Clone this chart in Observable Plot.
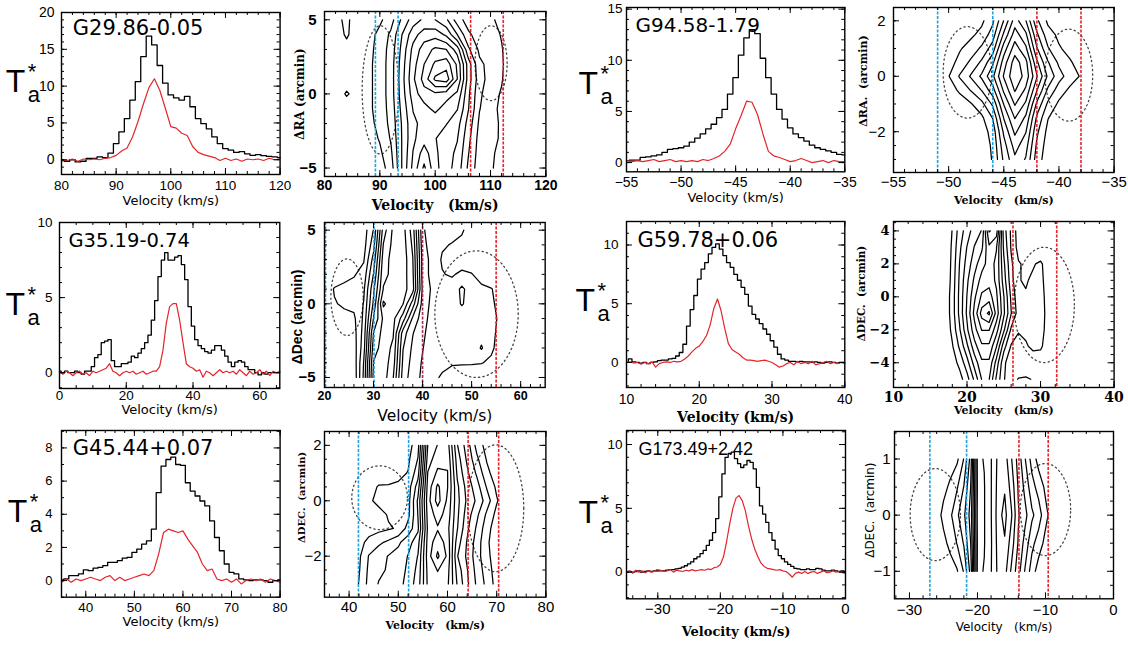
<!DOCTYPE html>
<html><head><meta charset="utf-8">
<script src="https://cdn.jsdelivr.net/npm/d3@7"></script>
<script src="https://cdn.jsdelivr.net/npm/@observablehq/plot@0.6"></script>
<style>
body{margin:0;background:#fff;}
#root{position:relative;width:1128px;height:646px;overflow:hidden;background:#fff;}
.pn{position:absolute;}
</style></head><body><div id="root"></div>
<script>
// ---------------- DATA ----------------
// Spectra (black = broad line, red = narrow line), regular velocity sampling
const p1Name = "G29.86-0.05", p1Start = 80, p1Step = 1;
const p1Black = [-0.1,-0.2,0,-0.3,-0.2,0.2,0.2,0.4,0.3,0.9,2.2,3.8,5.6,8.1,10.6,14.0,16.8,15.6,12.8,10.4,8.8,8.4,8.1,8.6,7.2,5.6,4.9,4.2,3.1,2.2,1.5,1.3,1.0,1.1,0.8,0.6,0.7,0.55,0.45,0.4,0.3];
const p1Red = [0,-0.1,0.1,-0.2,0.1,0,0.1,0,0.2,0.3,0.6,1.2,1.6,3.1,5.2,7.6,9.8,11.0,9.4,7.0,4.5,4.3,3.6,3.3,1.8,1.0,0.7,0.5,0.3,-0.1,0.2,-0.1,0.1,-0.2,0.1,0,0.1,-0.1,0.2,0,0.1];
const p1XTicks = [80,90,100,110,120], p1YTicks = [0,5,10,15,20];

const p3Name = "G35.19-0.74", p3Start = 0, p3Step = 1;
const p3Black = [0.1,0,0.1,0,0,0.1,0,-0.1,0.1,0.1,0.4,1.0,1.2,2.0,2.1,2.2,0.8,0.4,0.4,0.6,0.6,0.7,1.1,1.0,1.3,1.6,2.0,2.5,3.5,4.8,6.4,7.5,8.0,7.5,7.5,7.7,7.8,7.2,6.2,4.4,3.1,2.2,1.8,1.6,1.4,1.3,1.5,1.8,1.8,1.5,1.1,0.7,0.4,0.7,0.8,0.7,0.4,0.2,0.2,0,-0.15,0,-0.1,0,0,0,0];
const p3Red = [0.1,-0.1,0.1,0,-0.2,0,0.1,-0.1,0,-0.2,0.1,0,0.1,0.2,0.3,0.6,0.1,0,-0.2,0,0.1,0,0.1,-0.1,0,0.1,-0.1,0,0.1,0.1,0.4,1.5,3.3,4.4,4.6,4.6,3.5,2.0,0.6,0.4,0.3,0.1,0.2,-0.3,0.1,0,-0.2,0,0.2,0,0.1,0,0.1,-0.1,0.2,0,-0.2,0.1,-0.1,0,0.2,-0.1,0.1,-0.2,0.1,0,0.1];
const p3XTicks = [0,20,40,60], p3YTicks = [0,5,10];

const p5Name = "G45.44+0.07", p5Start = 35, p5Step = 1;
const p5Black = [0.05,0.1,0.3,0.3,0.4,0.65,0.6,0.75,0.8,0.9,1.1,1.1,1.2,1.35,1.4,1.7,1.9,2.2,2.4,3.1,5.3,6.9,7.3,7.45,7.0,6.95,5.9,5.4,5.1,4.8,4.5,3.6,2.6,1.8,1.0,0.5,0.4,0.1,0.05,0,0.05,0.05,0,-0.1,0,0.05];
const p5Red = [-0.1,0.1,-0.1,0.1,0,0.1,0.2,0.1,0,0.2,0.3,0,0.2,0,0.1,0.2,0.3,0.4,0.3,0.6,1.6,2.9,3.1,3.0,2.9,3.0,2.5,2.1,1.7,1.0,0.6,0.7,0.1,0,0.1,-0.1,0.1,-0.2,0,0.1,0,0.1,-0.1,0.1,0,-0.1];
const p5XTicks = [40,50,60,70,80], p5YTicks = [0,2,4,6,8];

const p7Name = "G94.58-1.79", p7Start = -55, p7Step = 0.5;
const p7Black = [0.2,0.25,0.25,0.5,0.55,0.65,0.75,1.0,1.3,1.37,1.45,1.6,2.0,2.4,2.8,3.3,3.75,4.4,5.2,6.7,8.3,10.5,12.2,13.0,12.6,10.2,8.3,6.7,5.2,4.25,3.4,2.8,2.45,2.1,1.7,1.45,1.3,1.15,1.0,0.8,0.75];
const p7Red = [0.2,0.1,0.2,0.1,0.2,0.3,0.1,0.2,0.3,0.1,0.2,0.1,0.2,0.1,0.3,0.2,0.4,0.65,1.1,1.8,3.3,4.6,6.0,5.9,4.7,2.8,1.1,0.65,0.5,0.3,0.1,0.2,0.4,0.2,0,0.1,0.2,0,0.2,0.1,0.1];
const p7XTicks = [-55,-50,-45,-40,-35], p7YTicks = [0,5,10,15];

const p9Name = "G59.78+0.06", p9Start = 10, p9Step = 0.5;
const p9Black = [0,0.3,0.05,0,-0.05,0,-0.1,0,0.05,0.15, 0.2,0.2,0.3,0.35,0.55,0.85,1.55,3.1,4.5,5.7, 7.1,7.95,8.5,9.25,9.8,10.1,9.65,9.1,8.5,8.1, 7.5,7.0,6.4,5.8,4.8,4.1,3.7,3.3,2.85,2.4, 1.85,1.3,0.7,0.3,0.2,0.1,0.1,0.05,0.1,0.05, 0.05,0,0.05,0,-0.05,0,0.05,0,-0.05,0, 0];
const p9Red = [0,0.05,-0.05,0,-0.15,0,-0.1,0.05,-0.4,-0.1, 0,0.05,0,0.1,0.05,0.1,0.3,0.55,0.9,1.2, 1.4,1.8,2.3,3.2,4.6,5.4,4.4,2.9,1.6,1.1, 0.9,0.7,0.4,0.2,0.2,0.15,0.1,0.15,0.2,0.1, 0,-0.2,-0.4,-0.3,-0.1,0,-0.2,0.1,-0.1,0, -0.1,0.1,-0.2,-0.1,0,0.1,-0.1,0,-0.1,0, -0.1];
const p9XTicks = [10,20,30,40], p9YTicks = [0,5,10];

const p11Name = "G173.49+2.42", p11Start = -35, p11Step = 0.5;
const p11Black = [0,0.05,0,0.05,0.1,0,0.05,0.1,0.05,0.1, 0.15,0.1,0.1,0.15,0.2,0.2,0.25,0.3,0.4,0.5, 0.65,0.8,1.05,1.2,1.45,1.7,2.1,2.5,3.1,4.2, 5.9,7.7,9.0,9.3,9.4,8.9,8.5,8.2,8.4,8.75, 8.6,8.1,6.65,5.2,4.55,3.9,3.1,2.5,1.8,1.3, 1.05,0.8,0.6,0.45,0.3,0.25,0.2,0.2,0.25,0.2, 0.2,0.3,0.25,0.15,0.1,0.1,0.15,0.1,0.05,0.1, 0.05];
const p11Red = [0,0.1,-0.1,0.15,0,0.1,-0.05,0.1,0,0.1, 0.05,0.15,0.05,0.1,0.2,0,0.15,0.1,0.05,0.15, 0.1,0.2,0.1,0.15,0.2,0.15,0.25,0.2,0.35,0.4, 0.6,1.2,2.4,3.8,5.0,5.8,6.0,5.6,4.8,3.6, 2.6,1.8,1.2,0.7,0.45,0.3,0.25,0.2,0.15,0.2, 0.1,0.05,-0.15,-0.4,-0.1,0,-0.1,0.05,-0.1,0, 0.05,-0.1,0,0.1,-0.05,0,0.1,0,0.05,-0.05, -0.1];
const p11XTicks = [-30,-20,-10,0], p11YTicks = [0,5,10];

// Position-velocity maps: intensity grids (rows from top offset downward, columns by velocity)
const p2V0 = 82, p2DV = 2, p2Top = 5, p2DY = 1;
const p2Grid = [
 [0.6,1.3,0.2,0.3,0.8,1.6,3.2,4.5,5.2,5.0,4.2,2.5,1.5,1.2,1.3,0.5,0],
 [0.3,1.2,0.2,0.6,1.3,2.2,4.0,5.6,6.5,6.6,5.8,4.0,2.2,1.5,1.6,0.9,0],
 [0.2,0.5,0.2,0.7,1.4,2.4,4.3,6.3,7.5,8.2,8.0,6.5,3.2,1.8,1.7,1.1,0],
 [0,0.1,0.2,0.8,1.4,2.5,4.5,6.6,8.0,9.2,9.6,7.8,4.5,2.2,1.7,1.2,0],
 [0,0.1,0.2,0.8,1.4,2.5,4.6,6.8,8.4,10.2,10.6,8.0,4.5,2.4,1.6,1.1,0],
 [0,1.2,0.3,0.8,1.4,2.5,4.5,6.5,7.6,7.8,7.5,6.8,4.2,2.2,1.4,0.9,0],
 [0,0,0.3,0.8,1.4,2.4,4.3,6.05,6.6,7.3,6.5,6.05,4.05,2.05,1.3,0.8,0],
 [0,0,0.2,0.7,1.3,2.3,4.1,5.8,6.3,6.2,6.05,5.4,3.6,1.8,1.5,0.8,0],
 [0,0,0.1,0.5,1.1,2.1,4.05,5.8,6.6,6.05,5.5,5.05,3.3,1.6,1.9,0.6,0],
 [0,0,0,0.3,0.8,1.8,4.05,6.05,7.5,6.2,5.4,4.8,3.05,1.5,1.3,0.5,0],
 [0,0,0,0.2,0.5,1.5,4.05,6.3,8.2,6.3,5.4,4.6,2.8,1.4,1.2,0.4,0]];
const p2Blue = [89.2, 93.3], p2RedLines = [106.4, 112.3];
const p2Ellipses = [[90.1,0.27,3.3,4.33],[110.1,2.07,2.9,2.53]];

const p4V0 = 20, p4DV = 2, p4Top = 5, p4DY = 1;
const p4Grid = [
 [0,0,0,0,0.5,2.05,6.5,8.2,8.4,6.5,2.2,1.3,1.2,1.3,1.1,0.6,0.3,0,0,0,0],
 [0,0,0,0,0.6,2.6,7.05,8.3,8.5,6.8,2.4,1.4,1.1,0.95,0.8,0.4,0.2,0,0,0,0],
 [0,0,0,0.3,0.9,3.4,7.5,8.4,8.6,7.05,2.6,1.6,0.9,0.6,0.5,0.4,0.2,0,0,0,0],
 [0,0.2,0.6,0.9,1.4,4.05,7.8,8.2,8.5,7.2,2.6,1.6,1.05,0.9,1.2,1.05,0.6,0.3,0,0,0],
 [0,1.1,1.3,1.4,1.8,4.8,8.05,8.2,8.4,7.4,2.8,1.8,1.3,1.4,2.2,1.5,1.2,1.05,0.6,0.2,0],
 [0,0.9,1.2,1.3,2.05,5.2,9.2,8.3,8.05,5.5,2.6,1.7,1.3,1.4,2.1,1.5,1.3,1.1,0.8,0.3,0],
 [0,0.2,0.6,0.8,2.2,6.05,8.2,8.3,6.5,3.8,2.4,1.6,1.3,1.2,1.3,1.3,1.3,1.4,0.7,0.3,0],
 [0,0,0.3,0.6,2.4,7.05,8.4,8.1,4.5,3.05,2.2,1.5,1.3,1.2,1.2,1.4,1.6,1.3,0.6,0.2,0],
 [0,0,0.2,0.5,2.6,7.5,8.5,7.8,4.05,2.8,2.05,1.4,1.2,1.2,1.2,1.3,2.1,1.2,0.5,0.1,0],
 [0,0,0.1,0.4,3.05,8.05,8.5,7.5,3.8,2.6,1.9,1.3,1.2,1.1,1.1,1.1,1.05,0.8,0.3,0,0],
 [0,0,0,0.3,3.2,8.3,8.5,7.05,3.5,2.5,1.8,1.2,0.9,0.6,0.4,0.3,0.2,0.1,0,0,0]];
const p4Blue = [20.2, 30.1], p4RedLines = [40.0, 55.0];
const p4Ellipses = [[24.6,0.45,3.3,2.6],[51.0,-0.7,8.5,4.3]];

const p6V0 = 40, p6DV = 2, p6Top = 2, p6DY = 0.5;
const p6Grid = [
 [0,0,0,0,0,0.3,0.6,1.6,7.05,8.05,8.5,5.05,3.5,1.6,0.6,0.2,0,0],
 [0,0,0,0,0.2,0.4,0.8,2.05,7.5,8.6,8.8,5.5,3.8,2.2,0.9,0.3,0,0],
 [0,0,0.1,0.3,0.5,0.7,1.05,2.6,8.05,9.2,9.05,5.8,4.2,2.8,1.3,0.4,0,0],
 [0,0,0.5,1.1,1.1,1.2,1.5,3.5,8.4,10.2,9.05,6.2,4.6,3.4,1.9,0.8,0.2,0],
 [0,0,0.8,1.3,1.3,1.3,1.6,4.2,8.6,10.4,8.8,6.3,4.8,3.8,2.5,1.1,0.3,0],
 [0,0,0.3,0.6,1.1,1.3,1.7,4.05,8.4,9.4,8.6,6.2,4.5,3.2,1.8,0.7,0.2,0],
 [0,0,0.4,0.7,0.9,1.1,2.4,3.8,8.2,8.9,8.3,6.05,4.2,2.8,1.4,0.4,0,0],
 [0,0.5,1.4,1.8,2.2,2.8,3.6,4.6,8.4,9.6,8.6,5.5,3.9,2.5,1.2,0.3,0,0],
 [0,0.8,2.05,2.6,3.05,3.4,4.05,5.05,8.5,10.2,8.8,5.05,3.8,2.4,1.3,0.4,0,0],
 [0,0.9,2.2,2.8,3.1,3.5,4.2,5.3,8.3,9.05,8.4,5.6,4.05,2.6,1.5,0.5,0,0],
 [0,1.05,2.3,3.05,3.3,3.6,4.4,5.5,8.2,8.6,8.2,5.9,4.2,2.8,1.7,0.6,0,0]];
const p6Blue = [41.9, 52.1], p6RedLines = [64.2, 70.4];
const p6Ellipses = [[46.2,0.11,5.66,1.15],[69.8,-0.27,5.7,2.29]];

const p8V0 = -52, p8DV = 1, p8Top = 2, p8DY = 0.5;
const p8Grid = [
 [0,0,0,0.2,0.5,0.8,1.8,4.05,6.5,5.05,2.2,0.8,0.3,0,0,0,0],
 [0,0,0.1,0.4,0.8,1.3,2.5,5.2,7.5,6.2,3.2,1.4,0.8,0.4,0.1,0,0],
 [0,0,0.3,0.9,1.4,2.2,3.5,6.5,8.5,7.2,4.1,2.1,1.1,0.7,0.3,0,0],
 [0,0.1,0.6,1.3,2.2,3.2,4.8,7.5,9.5,8.3,5.2,3.1,1.8,1.1,0.6,0.1,0],
 [0,0.2,0.95,2.1,3.1,4.2,5.8,8.1,9.8,8.6,6.1,3.8,2.4,1.5,0.9,0.2,0],
 [0,0,0.4,1.2,2.05,3.05,4.6,7.2,9.1,7.8,5.05,2.8,1.5,0.8,0.3,0,0],
 [0,0,0,0.4,0.9,1.7,3.2,6.05,8.1,6.8,3.8,1.8,0.8,0.3,0,0,0],
 [0,0,0,0.1,0.4,0.8,2.05,5.05,7.05,5.8,2.8,1.05,0.4,0.1,0,0,0],
 [0,0,0,0,0.2,0.5,1.4,4.2,6.2,5.05,2.2,0.7,0.2,0,0,0,0],
 [0,0,0,0,0,0.3,1.2,3.6,5.4,4.4,1.8,0.5,0,0,0,0,0],
 [0,0,0,0,0,0.2,1.1,3.2,4.8,3.9,1.5,0.4,0,0,0,0,0]];
const p8Blue = [-51.0, -46.0], p8RedLines = [-42.0, -38.0];
const p8Ellipses = [[-48.3,0.14,2.2,1.65],[-39.1,0.04,2.16,1.66]];

const p10V0 = 16, p10DV = 1, p10Top = 4, p10DY = 1;
const p10Grid = [
 [0,0,1.05,2.5,3.5,4.5,5.05,9.1,8.5,3.5,1.8,0.5,0,0,0,0,0,0,0],
 [0,0,1.2,2.8,4.05,5.05,5.8,7.8,7.05,3.8,1.9,0.6,0.2,0,0,0,0,0,0],
 [0,0,1.3,3.05,4.4,5.6,6.6,7.4,6.8,4.2,2.2,1.1,0.8,0.9,1.2,0.4,0,0,0],
 [0,0,1.4,3.2,4.8,6.2,7.4,7.6,6.8,4.5,2.4,1.05,0.9,1.2,1.3,0.5,0,0,0],
 [0,0.2,1.5,3.3,5.05,6.8,8.2,8.5,7.2,5.05,2.8,1.3,1.1,1.3,1.4,0.6,0,0,0],
 [0,0.2,1.5,3.3,5.2,7.3,9.4,10.2,7.6,5.2,3.05,1.5,1.2,1.3,1.4,0.7,0,0,0],
 [0,0.1,1.3,2.9,4.8,6.6,8.05,8.05,6.4,4.2,1.8,1.1,1.2,1.3,1.4,0.6,0,0,0],
 [0,0,0.9,2.2,3.8,5.6,6.8,6.8,5.05,2.4,0.9,0.6,0.9,1.2,1.2,0.4,0,0,0],
 [0,0,0.5,1.3,2.6,4.4,5.8,5.8,3.6,1.2,0.4,0.3,0.4,0.5,0.3,0,0,0,0],
 [0,0,0.2,0.6,1.6,3.2,5.05,5.05,2.8,1.05,0.6,1.05,1.1,0.95,0.3,0,0,0,0]];
const p10Blue = [], p10RedLines = [26.25, 32.2];
const p10Ellipses = [[30.5,-0.49,4.1,3.5]];

const p12V0 = -28, p12DV = 1, p12Top = 1, p12DY = 0.5;
const p12Grid = [
 [0,0,0,0.2,0.5,0.8,2.05,4.4,10.2,9.95,9.05,7.8,7.5,6.05,4.6,3.05,1.6,0.6,0.2,0,0,0,0],
 [0,0,0.2,0.7,1.2,1.9,3.05,5.0,10.1,10.05,9.05,7.7,7.9,6.6,4.9,3.7,2.4,1.6,0.8,0.2,0,0,0],
 [0,0.1,0.5,1.3,1.8,2.8,3.8,5.4,10.2,10.05,9.05,7.6,8.3,7.1,5.1,4.3,3.2,2.5,1.3,0.5,0,0,0],
 [0,0,0.2,0.7,1.3,2.05,3.1,5.0,10.1,10.05,9.1,7.7,7.9,6.5,4.9,3.6,2.3,1.5,0.7,0.2,0,0,0],
 [0,0,0,0.2,0.5,0.9,2.1,4.4,10.2,9.95,9.05,7.8,7.4,5.8,4.4,2.9,1.5,0.5,0.1,0,0,0,0]];
const p12Blue = [-27.0, -21.6], p12RedLines = [-13.9, -9.6];
const p12Ellipses = [[-26.2,0.01,3.7,0.82],[-10.0,0.1,3.7,0.82]];

// ---------------- DRAWING ----------------
const SANS = "Liberation Sans, Arial, Helvetica, sans-serif";
const DSANS = "DejaVu Sans, sans-serif";
const SERIF = "DejaVu Serif, serif";
const RED = "#e3252b", BLUE = "#1ea3df", MAROON = "#a3314c";
const root = document.getElementById("root");
const fmt = d => d < 0 ? "\u2212" + Math.abs(d) : String(d);
const nb = s => s.replace(/ /g, "\u00a0");
function rangeIn(step, dom) {
  const a = Math.min(...dom), b = Math.max(...dom);
  const s = Math.ceil(a / step - 1e-9) * step;
  return d3.range(s, b + 1e-9, step).map(v => +v.toFixed(6));
}

function panel(c) {
  const ml = 70, mr = 12, mt = 14, mb = 46;
  const [L, T, R, B] = c.frame;
  const pw = R - L, ph = B - T, W = pw + ml + mr, H = ph + mt + mb;
  const marks = [...c.marks];
  const maj = 6, mnr = 3;
  const xm = rangeIn(c.xMinor, c.x), ym = rangeIn(c.yMinor, c.y);
  const xt = c.xTicks.filter(v => v >= c.x[0] && v <= c.x[1]);
  const yMid = (c.y[0] + c.y[1]) / 2;
  marks.push(
    Plot.tickX(xm, {x: d => d, insetTop: ph - mnr}),
    Plot.tickX(xm, {x: d => d, insetBottom: ph - mnr}),
    Plot.tickX(xt, {x: d => d, insetTop: ph - maj}),
    Plot.tickX(xt, {x: d => d, insetBottom: ph - maj}),
    Plot.tickY(ym, {y: d => d, insetRight: pw - mnr}),
    Plot.tickY(ym, {y: d => d, insetLeft: pw - mnr}),
    Plot.tickY(c.yTicks, {y: d => d, insetRight: pw - maj}),
    Plot.tickY(c.yTicks, {y: d => d, insetLeft: pw - maj}),
    Plot.frame({stroke: "black", strokeWidth: 1.4}),
    Plot.text(c.xTicks, {x: d => d, frameAnchor: "bottom", dy: c.xl.dy, text: fmt, textAnchor: "middle", lineAnchor: "middle",
      fontSize: c.xl.size, fontFamily: c.xl.font, fontWeight: c.xl.weight || "normal", fill: "black"}),
    Plot.text(c.yTicks, {y: d => d, frameAnchor: "left", dx: c.yl.dx, text: fmt, textAnchor: "end", lineAnchor: "middle",
      fontSize: c.yl.size, fontFamily: c.yl.font, fontWeight: c.yl.weight || "normal", fill: "black"}),
    Plot.text([c.xt.text], {frameAnchor: "bottom", dy: c.xt.dy, text: d => nb(d), textAnchor: "middle", lineAnchor: "middle",
      fontSize: c.xt.size, fontFamily: c.xt.font, fontWeight: c.xt.weight || "normal", fill: "black"})
  );
  if (c.yt) marks.push(Plot.text([c.yt.text], {y: () => yMid, frameAnchor: "left", rotate: -90, dx: c.yt.dx, dy: c.yt.dy || 0,
      text: d => nb(d), textAnchor: "middle", lineAnchor: "middle", fontSize: c.yt.size, fontFamily: c.yt.font,
      fontWeight: c.yt.weight || "normal", fill: "black"}));
  const svg = Plot.plot({
    width: W, height: H, marginLeft: ml, marginRight: mr, marginTop: mt, marginBottom: mb,
    x: {domain: c.x, axis: null}, y: {domain: c.y, axis: null},
    style: {background: "transparent", overflow: "visible"},
    marks
  });
  const div = document.createElement("div");
  div.className = "pn";
  div.style.left = (L - ml) + "px"; div.style.top = (T - mt) + "px"; div.style.width = W + "px";
  div.appendChild(svg);
  root.appendChild(div);
}

function specMarks(start, step, black, red, name, nameOpt, ta) {
  const b = black.map((t, i) => ({v: start + i * step, t}));
  const r = red.map((t, i) => ({v: start + i * step, t}));
  const base = {frameAnchor: "left", text: d => d, textAnchor: "start", lineAnchor: "bottom", fontFamily: SANS, fill: "black"};
  return [
    Plot.line(b, {x: "v", y: "t", stroke: "black", curve: "step", strokeWidth: 1.3}),
    Plot.line(r, {x: "v", y: "t", stroke: RED, strokeWidth: 1.2}),
    Plot.text([name], {frameAnchor: "top-left", dx: nameOpt.dx, dy: nameOpt.dy, text: d => d, textAnchor: "start",
      lineAnchor: "bottom", fontSize: nameOpt.size, fontFamily: nameOpt.font, fill: "black"}),
    Plot.text(["T"], {...base, dx: ta[0], dy: ta[1], fontSize: 32}),
    Plot.text(["a"], {...base, dx: ta[0] + 22, dy: ta[1] + 10, fontSize: 22}),
    Plot.text(["*"], {...base, dx: ta[0] + 22, dy: ta[1] - 13, fontSize: 22})
  ];
}

function contourSegments(grid, v0, dv, yTop, dy, levels) {
  const ny = grid.length, nx = Math.max(...grid.map(r => r.length));
  const values = new Array(nx * ny);
  for (let j = 0; j < ny; j++) for (let i = 0; i < nx; i++) values[j * nx + i] = grid[j][i] ?? 0;
  const cs = d3.contours().size([nx, ny]).thresholds(levels)(values);
  const out = []; let id = 0;
  const isB = p => p[0] <= 0 || p[0] >= nx || p[1] <= 0 || p[1] >= ny;
  const conv = p => ({v: v0 + (p[0] - 0.5) * dv, y: yTop - (p[1] - 0.5) * dy});
  for (const c of cs) for (const poly of c.coordinates) for (const ring of poly) {
    let pts = ring;
    const f = ring[0], l = ring[ring.length - 1];
    if (f[0] === l[0] && f[1] === l[1]) pts = ring.slice(0, -1);
    const n = pts.length;
    const s = pts.findIndex(isB);
    if (s < 0) { id++; for (const p of [...pts, pts[0]]) out.push({...conv(p), id}); continue; }
    let cur = [];
    const flush = () => { if (cur.length > 1) { id++; for (const p of cur) out.push({...conv(p), id}); } cur = []; };
    for (let k = 1; k <= n; k++) { const p = pts[(s + k) % n]; if (isB(p)) flush(); else cur.push(p); }
    flush();
  }
  return out;
}

function ellipsePts(list) {
  const out = [];
  list.forEach((e, k) => {
    for (let a = 0; a <= 90; a++) {
      const t = a / 90 * 2 * Math.PI;
      out.push({v: e[0] + e[2] * Math.cos(t), y: e[1] + e[3] * Math.sin(t), id: k});
    }
  });
  return out;
}

function pvMarks(grid, v0, dv, yTop, dy, nLevels, blue, red, ellipses, redColors) {
  const levels = d3.range(1, nLevels + 1);
  const segs = contourSegments(grid, v0, dv, yTop, dy, levels);
  const ell = ellipsePts(ellipses);
  const reds = red.map((v, i) => ({v, c: redColors ? redColors[i] : RED}));
  return [
    Plot.line(ell, {x: "v", y: "y", z: "id", stroke: "#444", strokeDasharray: "1.3,3.2", strokeWidth: 1.3, clip: true}),
    Plot.line(segs, {x: "v", y: "y", z: "id", stroke: "black", strokeWidth: 1.25, strokeLinejoin: "round"}),
    Plot.ruleX(blue, {x: d => d, stroke: BLUE, strokeDasharray: "3,1.5", strokeWidth: 1.6}),
    Plot.ruleX(reds, {x: "v", stroke: "c", strokeDasharray: "3,1.5", strokeWidth: 1.6})
  ];
}

// ---------- Spectra ----------
panel({frame: [60.7, 12.3, 279.3, 174.3], x: [80, 120], y: [-2, 20], xTicks: p1XTicks, yTicks: p1YTicks, xMinor: 2, yMinor: 1,
  marks: specMarks(p1Start, p1Step, p1Black, p1Red, p1Name, {dx: 11.3, dy: 22.7, size: 21, font: DSANS}, [-55.7, -1.3]),
  xl: {dy: 11, size: 13.5, font: SANS}, yl: {dx: -7, size: 14, font: SANS},
  xt: {text: "Velocity (km/s)", dy: 26, size: 13, font: DSANS}});
panel({frame: [59, 222.3, 279.3, 388.3], x: [0, 66], y: [-1.05, 10], xTicks: p3XTicks, yTicks: p3YTicks, xMinor: 5, yMinor: 1,
  marks: specMarks(p3Start, p3Step, p3Black, p3Red, p3Name, {dx: 9, dy: 24.4, size: 19.5, font: DSANS}, [-54, 9.7]),
  xl: {dy: 7.5, size: 13.5, font: SANS}, yl: {dx: -7, size: 13.5, font: SANS},
  xt: {text: "Velocity (km/s)", dy: 21.7, size: 13, font: DSANS}});
panel({frame: [60.7, 430, 279.3, 596.7], x: [35, 80], y: [-1, 9.05], xTicks: p5XTicks, yTicks: p5YTicks, xMinor: 2, yMinor: 1,
  marks: specMarks(p5Start, p5Step, p5Black, p5Red, p5Name, {dx: 11.3, dy: 25, size: 21, font: DSANS}, [-53.7, 8.4]),
  xl: {dy: 10.6, size: 13.5, font: SANS}, yl: {dx: -9, size: 13, font: SANS},
  xt: {text: "Velocity (km/s)", dy: 25, size: 13, font: DSANS}});
panel({frame: [626, 6.7, 844.3, 171], x: [-55, -35], y: [-0.9, 15.16], xTicks: p7XTicks, yTicks: p7YTicks, xMinor: 1, yMinor: 1,
  marks: specMarks(p7Start, p7Step, p7Black, p7Red, p7Name, {dx: 9, dy: 25, size: 20, font: DSANS}, [-48, 4.2]),
  xl: {dy: 10.7, size: 14, font: SANS}, yl: {dx: -4, size: 13.5, font: SANS},
  xt: {text: "Velocity (km/s)", dy: 25.7, size: 13, font: DSANS}});
panel({frame: [626, 220.7, 844.3, 386.7], x: [10, 40], y: [-2.13, 12], xTicks: p9XTicks, yTicks: p9YTicks, xMinor: 2, yMinor: 1,
  marks: specMarks(p9Start, p9Step, p9Black, p9Red, p9Name, {dx: 11, dy: 26, size: 21, font: DSANS}, [-51, 6.3]),
  xl: {dy: 11.6, size: 14, font: SANS}, yl: {dx: -8, size: 13.5, font: SANS},
  xt: {text: "Velocity (km/s)", dy: 30, size: 14, font: SERIF, weight: "bold"}});
panel({frame: [626, 430, 845, 598.3], x: [-35, 0], y: [-2.09, 11.1], xTicks: p11XTicks, yTicks: p11YTicks, xMinor: 2, yMinor: 1,
  marks: specMarks(p11Start, p11Step, p11Black, p11Red, p11Name, {dx: 12, dy: 25, size: 18, font: SANS}, [-48, 8.8]),
  xl: {dy: 10.7, size: 15, font: SANS}, yl: {dx: -4, size: 13.5, font: SANS},
  xt: {text: "Velocity (km/s)", dy: 33, size: 13, font: SERIF, weight: "bold"}});

// ---------- Position-velocity maps ----------
panel({frame: [324.3, 10.7, 545.7, 175.7], x: [80, 120], y: [-5.57, 5.56], xTicks: [80,90,100,110,120], yTicks: [-5,0,5], xMinor: 2, yMinor: 1,
  marks: pvMarks(p2Grid, p2V0, p2DV, p2Top, p2DY, 10, p2Blue, p2RedLines, p2Ellipses),
  xl: {dy: 9.3, size: 14, font: SANS, weight: "bold"}, yl: {dx: -8, size: 15, font: SANS, weight: "bold"},
  xt: {text: "Velocity   (km/s)", dy: 29.3, size: 14, font: SERIF, weight: "bold"},
  yt: {text: "ΔRA (arcmin)", dx: -24, dy: 0, size: 12, font: SERIF, weight: "bold"}});
panel({frame: [324.3, 221.7, 545, 386.7], x: [20, 65], y: [-5.68, 5.52], xTicks: [20,30,40,50,60], yTicks: [-5,0,5], xMinor: 2, yMinor: 1,
  marks: pvMarks(p4Grid, p4V0, p4DV, p4Top, p4DY, 9, p4Blue, p4RedLines, p4Ellipses, [MAROON, RED]),
  xl: {dy: 8.3, size: 12.5, font: SANS, weight: "bold"}, yl: {dx: -9, size: 15, font: SANS, weight: "bold"},
  xt: {text: "Velocity (km/s)", dy: 28.3, size: 15.5, font: DSANS},
  yt: {text: "ΔDec (arcmin)", dx: -27, dy: 12, size: 14, font: SANS, weight: "bold"}});
panel({frame: [324.3, 431, 545.7, 596.7], x: [35, 80], y: [-3.48, 2.5], xTicks: [40,50,60,70,80], yTicks: [-2,0,2], xMinor: 2, yMinor: 0.5,
  marks: pvMarks(p6Grid, p6V0, p6DV, p6Top, p6DY, 10, p6Blue, p6RedLines, p6Ellipses),
  xl: {dy: 10, size: 15, font: SANS}, yl: {dx: -3, size: 15, font: SANS},
  xt: {text: "Velocity   (km/s)", dy: 28.3, size: 11, font: SERIF, weight: "bold"},
  yt: {text: "ΔDEC.  (arcmin)", dx: -23, dy: -17, size: 10, font: SERIF, weight: "bold"}});
panel({frame: [892.7, 6.7, 1113.3, 171.7], x: [-55, -35], y: [-3.47, 2.48], xTicks: [-55,-50,-45,-40,-35], yTicks: [-2,0,2], xMinor: 1, yMinor: 0.5,
  marks: pvMarks(p8Grid, p8V0, p8DV, p8Top, p8DY, 9, p8Blue, p8RedLines, p8Ellipses),
  xl: {dy: 10, size: 15, font: SANS}, yl: {dx: -8, size: 15, font: SANS},
  xt: {text: "Velocity   (km/s)", dy: 28.3, size: 11, font: SERIF, weight: "bold"},
  yt: {text: "ΔRA.  (arcmin)", dx: -30, dy: -9, size: 11, font: SERIF, weight: "bold"}});
panel({frame: [892.7, 220.7, 1113.3, 386.7], x: [10, 40], y: [-5.5, 4.57], xTicks: [10,20,30,40], yTicks: [-4,-2,0,2,4], xMinor: 2, yMinor: 0.5,
  marks: pvMarks(p10Grid, p10V0, p10DV, p10Top, p10DY, 10, p10Blue, p10RedLines, p10Ellipses),
  xl: {dy: 10, size: 14, font: SERIF, weight: "bold"}, yl: {dx: -4, size: 13, font: SERIF, weight: "bold"},
  xt: {text: "Velocity   (km/s)", dy: 23.3, size: 11, font: SERIF, weight: "bold"},
  yt: {text: "ΔDEC.  (arcmin)", dx: -32, dy: -11, size: 10.5, font: SERIF, weight: "bold"}});
panel({frame: [894.3, 431, 1113.3, 598.3], x: [-32.2, 0], y: [-1.49, 1.49], xTicks: [-30,-20,-10,0], yTicks: [-1,0,1], xMinor: 2, yMinor: 0.25,
  marks: pvMarks(p12Grid, p12V0, p12DV, p12Top, p12DY, 10, p12Blue, p12RedLines, p12Ellipses),
  xl: {dy: 11.7, size: 15, font: SANS}, yl: {dx: -4, size: 15, font: SANS},
  xt: {text: "Velocity   (km/s)", dy: 28.3, size: 12, font: DSANS},
  yt: {text: "ΔDEC.  (arcmin)", dx: -24, dy: -5, size: 12, font: DSANS}});
</script></body></html>
